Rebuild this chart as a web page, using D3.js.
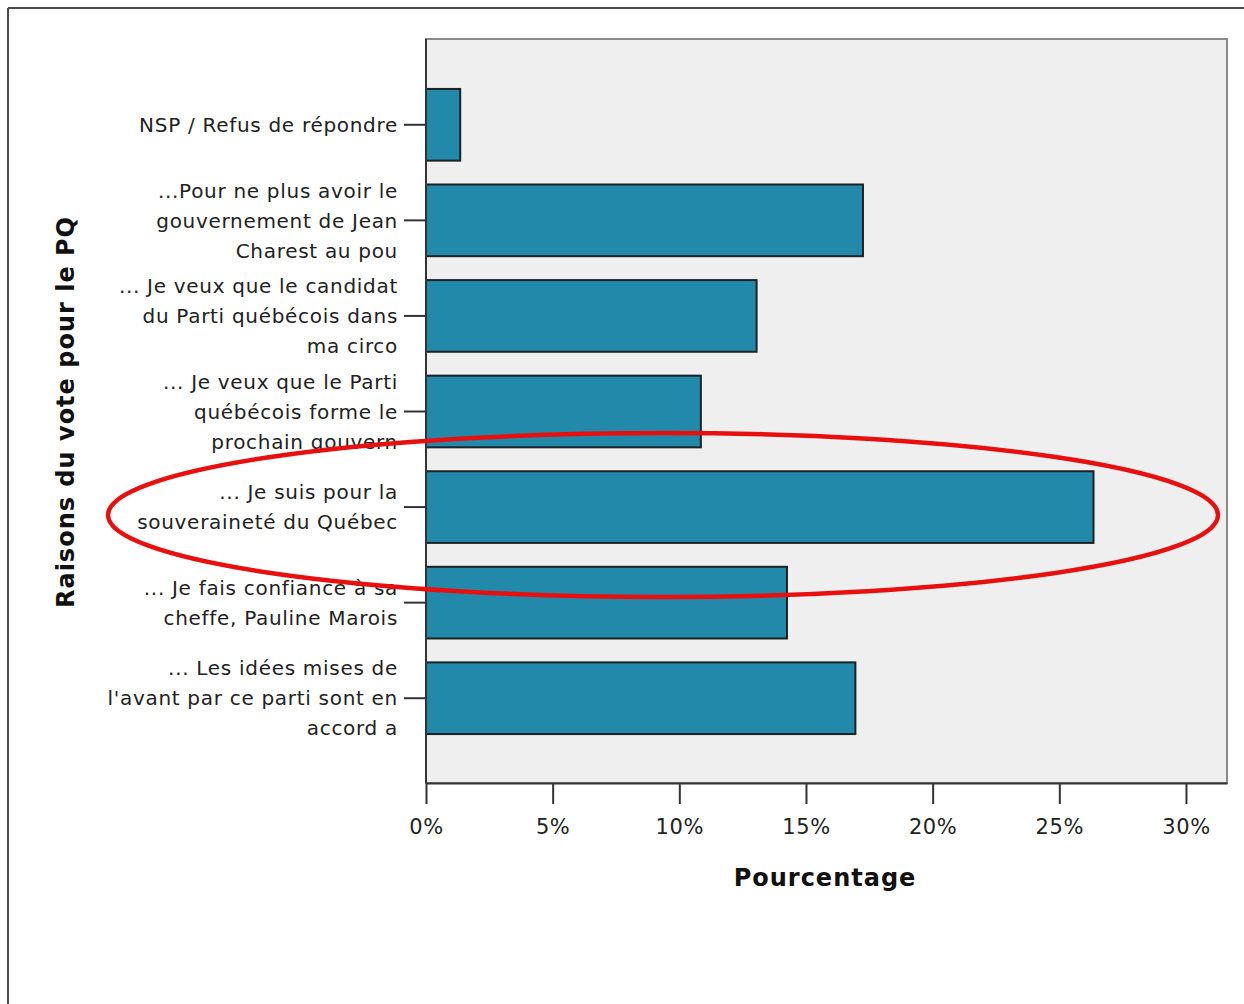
<!DOCTYPE html>
<html><head><meta charset="utf-8">
<script src="https://cdn.jsdelivr.net/npm/d3@7"></script>
<style>body{margin:0;background:#fff}svg{display:block}</style>
</head><body>
<script>
const categories = [
  ["NSP / Refus de répondre"],
  ["...Pour ne plus avoir le", "gouvernement de Jean", "Charest au pou"],
  ["... Je veux que le candidat", "du Parti québécois dans", "ma circo"],
  ["... Je veux que le Parti", "québécois forme le", "prochain gouvern"],
  ["... Je suis pour la", "souveraineté du Québec"],
  ["... Je fais confiance à sa", "cheffe, Pauline Marois"],
  ["... Les idées mises de", "l'avant par ce parti sont en", "accord a"]
];
const values = [1.35, 17.25, 13.05, 10.85, 26.35, 14.25, 16.95];
const xTicks = [0, 5, 10, 15, 20, 25, 30];
const xTitle = "Pourcentage";
const yTitle = "Raisons du vote pour le PQ";

(function () {
const W = 1244, H = 1004;
const svg = d3.select("body").append("svg").attr("width", W).attr("height", H);
const font = "'DejaVu Sans', sans-serif";

// outer frame lines
svg.append("line").attr("x1", 8).attr("x2", W).attr("y1", 8).attr("y2", 8).attr("stroke", "#4a4a50").attr("stroke-width", 2);
svg.append("line").attr("x1", 8).attr("x2", 8).attr("y1", 8).attr("y2", H).attr("stroke", "#4a4a50").attr("stroke-width", 2);

const pL = 426, pR = 1227, pT = 39, pB = 783;
const x = d3.scaleLinear().domain([0, 31.62]).range([pL, pR]);
const y = d3.scaleBand().domain(d3.range(categories.length)).range([77, 746]).paddingInner(0.25).paddingOuter(0.125);

// plot background
svg.append("rect").attr("x", pL).attr("y", pT).attr("width", pR - pL).attr("height", pB - pT)
  .attr("fill", "#efefef").attr("stroke", "#8a8a8a").attr("stroke-width", 2);

// bars
svg.append("g").selectAll("rect").data(values).join("rect")
  .attr("x", x(0)).attr("y", (d, i) => y(i)).attr("width", d => x(d) - x(0)).attr("height", y.bandwidth())
  .attr("fill", "#2389ab").attr("stroke", "#1c2226").attr("stroke-width", 2);

// x axis
const xAxis = svg.append("g").attr("transform", `translate(0,${pB})`)
  .call(d3.axisBottom(x).tickValues(xTicks).tickFormat(d => d + "%").tickSize(21).tickSizeOuter(0).tickPadding(15));
xAxis.select(".domain").attr("stroke", "#333").attr("stroke-width", 2);
xAxis.selectAll(".tick line").attr("stroke", "#333").attr("stroke-width", 2);
xAxis.selectAll("text").attr("font-family", font).attr("font-size", 21).attr("letter-spacing", 0.6).attr("fill", "#222");

// y axis
const yAxis = svg.append("g").attr("transform", `translate(${pL},0)`)
  .call(d3.axisLeft(y).tickSize(22).tickSizeOuter(0).tickFormat(""));
yAxis.select(".domain").remove();
yAxis.selectAll(".tick line").attr("stroke", "#333").attr("stroke-width", 2);
svg.append("line").attr("x1", pL).attr("x2", pL).attr("y1", pT).attr("y2", pB).attr("stroke", "#333").attr("stroke-width", 2);

// y labels
const lh = 30;
const lab = svg.append("g").attr("font-family", font).attr("font-size", 20).attr("letter-spacing", 0.7)
  .attr("fill", "#222").attr("text-anchor", "end");
categories.forEach((lines, i) => {
  const cy = y(i) + y.bandwidth() / 2;
  const t = lab.append("text").attr("x", 398).attr("y", cy - (lines.length - 1) * lh / 2);
  lines.forEach((l, j) => t.append("tspan").attr("x", 398).attr("dy", j === 0 ? "0.36em" : lh).text(l));
});

// titles
svg.append("text").attr("x", 825).attr("y", 877).attr("dy", "0.36em").attr("text-anchor", "middle")
  .attr("font-family", font).attr("font-weight", "bold").attr("font-size", 24).attr("letter-spacing", 1)
  .attr("fill", "#111").text(xTitle);
svg.append("text").attr("transform", "translate(65,412) rotate(-90)").attr("dy", "0.36em").attr("text-anchor", "middle")
  .attr("font-family", font).attr("font-weight", "bold").attr("font-size", 24).attr("letter-spacing", 1)
  .attr("fill", "#111").text(yTitle);

// red highlight ellipse
svg.append("ellipse").attr("cx", 663).attr("cy", 515).attr("rx", 555).attr("ry", 82)
  .attr("fill", "none").attr("stroke", "#e8100f").attr("stroke-width", 4.5);
})();
</script>
</body></html>
